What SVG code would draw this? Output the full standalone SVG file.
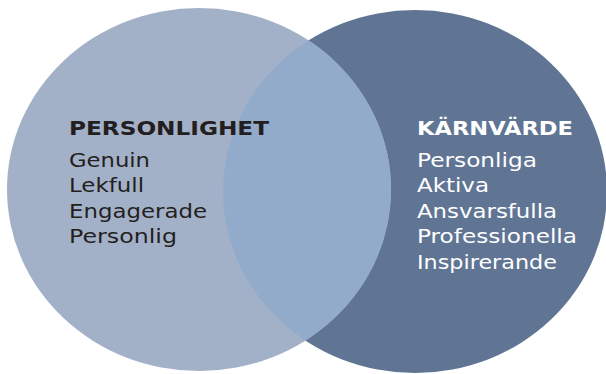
<svg xmlns="http://www.w3.org/2000/svg" width="606" height="374" viewBox="0 0 606 374">
  <style>
    .head { font-family: "DejaVu Sans", "Liberation Sans", sans-serif; font-weight: bold; font-size: 19px; }
    .item { font-family: "DejaVu Sans", "Liberation Sans", sans-serif; font-size: 19px; }
    .dark { fill: #231f20; }
    .light { fill: #ffffff; }
  </style>
  <defs>
    <clipPath id="rightClip">
      <ellipse cx="415" cy="191.5" rx="192" ry="181.5"/>
    </clipPath>
  </defs>
  <rect width="606" height="374" fill="#ffffff"/>
  <g id="karnvarde">
    <ellipse cx="415" cy="191.5" rx="192" ry="181.5" fill="#607594"/>
    <text class="head light" x="417" y="135" textLength="156" lengthAdjust="spacingAndGlyphs">KÄRNVÄRDE</text>
    <text class="item light" x="417" y="166.5" textLength="120" lengthAdjust="spacingAndGlyphs">Personliga</text>
    <text class="item light" x="417" y="192" textLength="72" lengthAdjust="spacingAndGlyphs">Aktiva</text>
    <text class="item light" x="417" y="217.5" textLength="140" lengthAdjust="spacingAndGlyphs">Ansvarsfulla</text>
    <text class="item light" x="417" y="243" textLength="160" lengthAdjust="spacingAndGlyphs">Professionella</text>
    <text class="item light" x="417" y="268.5" textLength="140" lengthAdjust="spacingAndGlyphs">Inspirerande</text>
  </g>
  <g id="personlighet">
    <ellipse cx="199" cy="189.5" rx="192" ry="181.5" fill="#a3b1c8"/>
    <ellipse id="overlap" cx="199" cy="189.5" rx="192" ry="181.5" fill="#93abca" clip-path="url(#rightClip)"/>
    <text class="head dark" x="69" y="135" textLength="200" lengthAdjust="spacingAndGlyphs">PERSONLIGHET</text>
    <text class="item dark" x="69" y="166.5" textLength="81" lengthAdjust="spacingAndGlyphs">Genuin</text>
    <text class="item dark" x="69" y="192" textLength="75" lengthAdjust="spacingAndGlyphs">Lekfull</text>
    <text class="item dark" x="69" y="217.5" textLength="138" lengthAdjust="spacingAndGlyphs">Engagerade</text>
    <text class="item dark" x="69" y="243" textLength="108" lengthAdjust="spacingAndGlyphs">Personlig</text>
  </g>
</svg>
